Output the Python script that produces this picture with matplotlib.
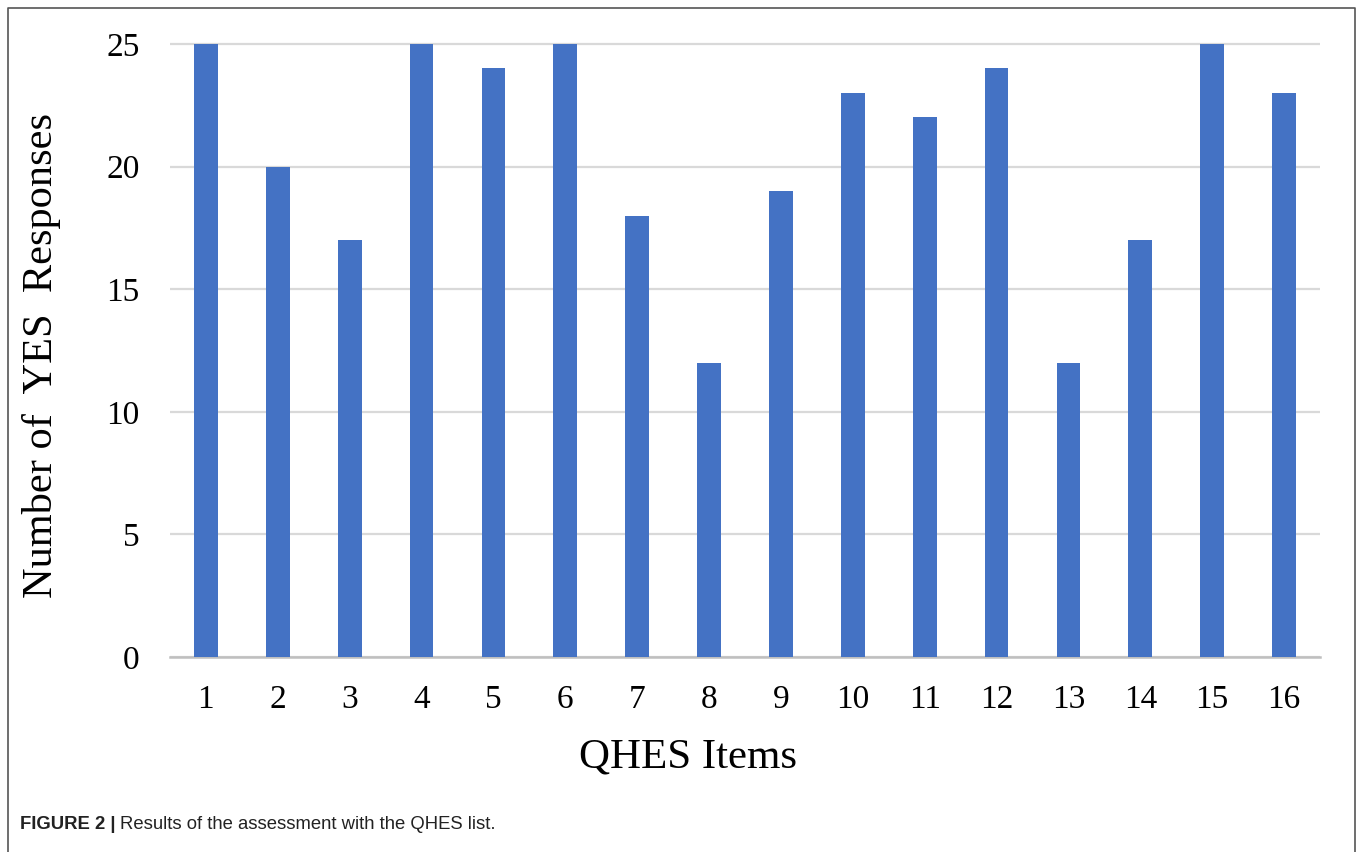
import matplotlib.pyplot as plt
from matplotlib.lines import Line2D

# QHES checklist results
items = [str(i) for i in range(1, 17)]
yes_counts = [25, 20, 17, 25, 24, 25, 18, 12, 19, 23, 22, 24, 12, 17, 25, 23]
y_ticks = [0, 5, 10, 15, 20, 25]

W, H = 1358, 852
fig = plt.figure(figsize=(W / 100, H / 100), dpi=100)
serif = ['Liberation Serif', 'DejaVu Serif']

# axes box in pixel terms -> figure fraction
left, right, bottom_px, top_px = 170, 1320, 657, 39
ax = fig.add_axes([left / W, 1 - bottom_px / H, (right - left) / W, (bottom_px - top_px) / H])

x = range(len(items))
ax.bar(x, yes_counts, width=0.33, color='#4472C4', zorder=3)

ax.set_xlim(-0.5, len(items) - 0.5)
ax.set_ylim(0, 25.2)
ax.set_yticks(y_ticks)
ax.set_xticks(list(x))
ax.set_xticklabels(items)
ax.yaxis.grid(True, color='#D9D9D9', linewidth=1.6, zorder=0)
ax.set_axisbelow(True)
for s in ['top', 'right', 'left']:
    ax.spines[s].set_visible(False)
ax.spines['bottom'].set_color('#BFBFBF')
ax.spines['bottom'].set_linewidth(1.8)
ax.tick_params(axis='both', length=0, labelsize=24)
ax.tick_params(axis='x', pad=20)
ax.tick_params(axis='y', pad=22)
for lbl in ax.get_xticklabels() + ax.get_yticklabels():
    lbl.set_family(serif)

# axis titles placed in figure pixels
fig.text(42 / W, 1 - 356 / H, 'Number of  YES  Responses', fontsize=30.5, family=serif,
         rotation=90, ha='center', va='center')
fig.text(688 / W, 1 - 767 / H, 'QHES Items', fontsize=31, family=serif,
         ha='center', va='baseline')

# frame around the figure panel
fx = [8 / W, 8 / W, 1355 / W, 1355 / W]
fy = [0, 1 - 8 / H, 1 - 8 / H, 0]
fig.add_artist(Line2D(fx, fy, transform=fig.transFigure, color='#555555', linewidth=1.2))

# caption
cap_y = 1 - 829 / H
t1 = fig.text(20 / W, cap_y, 'FIGURE 2 |', fontsize=13.3, fontweight='bold',
              family='Liberation Sans', color='#222222', va='baseline')
fig.canvas.draw()
bb = t1.get_window_extent()
fig.text((bb.x1 + 4) / W, cap_y, 'Results of the assessment with the QHES list.',
         fontsize=13.3, family='Liberation Sans', color='#222222', va='baseline')

fig.savefig('out.png', dpi=100, facecolor='white')
